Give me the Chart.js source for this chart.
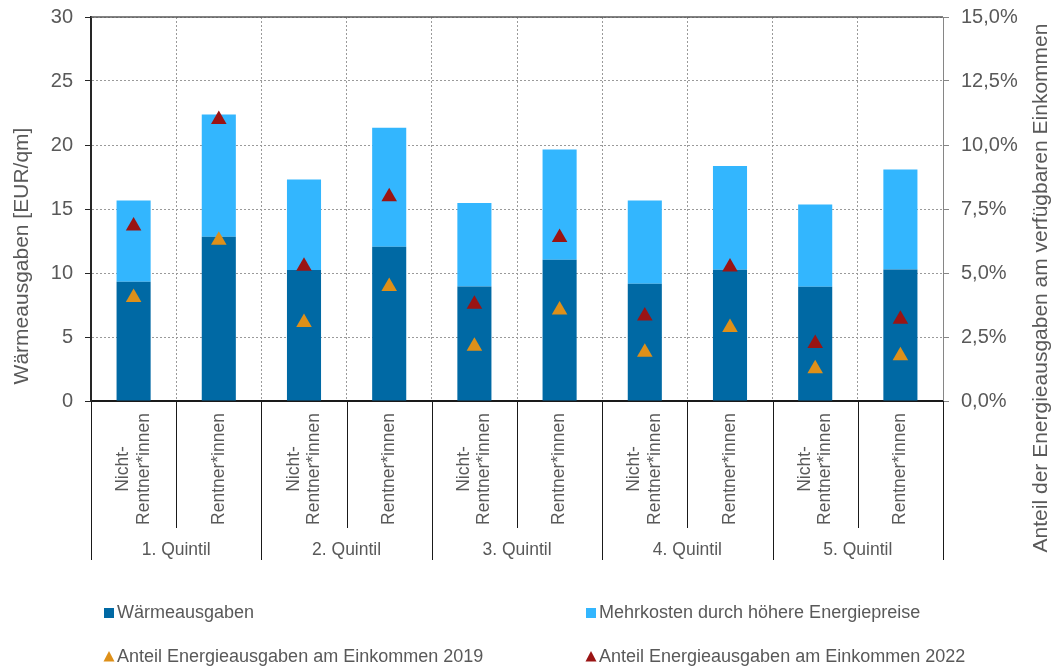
<!DOCTYPE html>
<html><head><meta charset="utf-8">
<script src="https://cdn.jsdelivr.net/npm/chart.js@4.4.1/dist/chart.umd.min.js"></script>
<style>html,body{margin:0;padding:0;background:#fff;}#wrap{width:1051px;height:666px;}</style>
</head><body><div id="wrap"><canvas id="c" width="1051" height="666"></canvas></div>
<script>
const groups = ['1. Quintil', '2. Quintil', '3. Quintil', '4. Quintil', '5. Quintil'];
const categories = [
  ['Nicht-', 'Rentner*innen'], ['Rentner*innen'],
  ['Nicht-', 'Rentner*innen'], ['Rentner*innen'],
  ['Nicht-', 'Rentner*innen'], ['Rentner*innen'],
  ['Nicht-', 'Rentner*innen'], ['Rentner*innen'],
  ['Nicht-', 'Rentner*innen'], ['Rentner*innen']
];
const waermeausgaben = [9.31, 12.83, 10.23, 12.05, 8.95, 11.03, 9.16, 10.25, 8.92, 10.28];
const mehrkosten     = [6.36, 9.55, 7.08, 9.29, 6.51, 8.62, 6.51, 8.10, 6.44, 7.81];
const anteil2019     = [4.04, 6.28, 3.07, 4.47, 2.14, 3.55, 1.90, 2.87, 1.26, 1.77];
const anteil2022     = [6.84, 11.00, 5.26, 7.98, 3.78, 6.39, 3.32, 5.23, 2.25, 3.19];
const seriesNames = ['Wärmeausgaben', 'Mehrkosten durch höhere Energiepreise',
  'Anteil Energieausgaben am Einkommen 2019', 'Anteil Energieausgaben am Einkommen 2022'];
const leftTitle = 'Wärmeausgaben [EUR/qm]';
const rightTitle = 'Anteil der Energieausgaben am verfügbaren Einkommen';

const FONT = '"Liberation Sans", Arial, sans-serif';
const TXT = '#595959';
const C_DARK = '#0069A4', C_LIGHT = '#33B6FE', C_OR = '#DE9019', C_RED = '#9A1414';

const overlay = {
  id: 'overlay',
  afterDraw(chart) {
    const {ctx, chartArea: a, scales: {x}} = chart;
    ctx.save();
    // top border
    ctx.strokeStyle = '#595959'; ctx.lineWidth = 1.5;
    ctx.beginPath(); ctx.moveTo(a.left, a.top); ctx.lineTo(a.right, a.top); ctx.stroke();
    // separators below the axis
    const n = chart.data.labels.length;
    const cw = (a.right - a.left) / n;
    ctx.strokeStyle = '#1a1a1a'; ctx.lineWidth = 1;
    for (let i = 0; i <= n; i++) {
      const xx = Math.round(a.left + i * cw) + 0.5;
      const yb = (i % 2 === 0) ? 560 : 528;
      ctx.beginPath(); ctx.moveTo(xx, a.bottom); ctx.lineTo(xx, yb); ctx.stroke();
    }
    // category labels
    ctx.fillStyle = TXT;
    ctx.font = '17.5px ' + FONT;
    categories.forEach((lines, i) => {
      const cx = x.getPixelForValue(i);
      ctx.save();
      ctx.translate(cx, 469);
      ctx.rotate(-Math.PI / 2);
      ctx.textAlign = 'center'; ctx.textBaseline = 'middle';
      lines.forEach((t, j) => ctx.fillText(t, 0, (j - (lines.length - 1) / 2) * 20.5));
      ctx.restore();
    });
    // group labels
    ctx.textAlign = 'center'; ctx.textBaseline = 'middle';
    groups.forEach((g, k) => {
      const cx = (x.getPixelForValue(2 * k) + x.getPixelForValue(2 * k + 1)) / 2;
      ctx.fillText(g, cx, 550);
    });
    // axis titles
    ctx.font = '21px ' + FONT;
    ctx.save(); ctx.translate(22, 256); ctx.rotate(-Math.PI / 2);
    ctx.fillText(leftTitle, 0, 0); ctx.restore();
    ctx.save(); ctx.translate(1041, 288); ctx.rotate(-Math.PI / 2);
    ctx.fillText(rightTitle, 0, 0); ctx.restore();
    // legend
    ctx.font = '18px ' + FONT;
    ctx.textAlign = 'left';
    const items = [
      {x: 104, y: 613, c: C_DARK, t: 'box'},
      {x: 586, y: 613, c: C_LIGHT, t: 'box'},
      {x: 104, y: 657, c: C_OR, t: 'tri'},
      {x: 586, y: 657, c: C_RED, t: 'tri'}
    ];
    items.forEach((it, i) => {
      ctx.fillStyle = it.c;
      if (it.t === 'box') {
        ctx.fillRect(it.x, it.y - 5, 10, 10);
      } else {
        ctx.beginPath();
        ctx.moveTo(it.x + 5, it.y - 6);
        ctx.lineTo(it.x + 10.5, it.y + 4.5);
        ctx.lineTo(it.x - 0.5, it.y + 4.5);
        ctx.closePath(); ctx.fill();
      }
      ctx.fillStyle = TXT;
      ctx.fillText(seriesNames[i], it.x + 13, it.y);
    });
    ctx.restore();
  }
};

const pctFmt = v => v.toFixed(1).replace('.', ',') + '%';

new Chart(document.getElementById('c'), {
  type: 'bar',
  data: {
    labels: categories.map(l => l.join(' ')),
    datasets: [
      {label: seriesNames[0], data: waermeausgaben, backgroundColor: C_DARK, stack: 's', yAxisID: 'y',
       barPercentage: 0.4, categoryPercentage: 1.0, borderWidth: 0},
      {label: seriesNames[1], data: mehrkosten, backgroundColor: C_LIGHT, stack: 's', yAxisID: 'y',
       barPercentage: 0.4, categoryPercentage: 1.0, borderWidth: 0},
      {type: 'line', label: seriesNames[2], data: anteil2019, yAxisID: 'y1', showLine: false,
       pointStyle: 'triangle', pointRadius: 9, pointHoverRadius: 9, pointBorderWidth: 0,
       backgroundColor: C_OR, borderColor: C_OR, order: -1},
      {type: 'line', label: seriesNames[3], data: anteil2022, yAxisID: 'y1', showLine: false,
       pointStyle: 'triangle', pointRadius: 9, pointHoverRadius: 9, pointBorderWidth: 0,
       backgroundColor: C_RED, borderColor: C_RED, order: -1}
    ]
  },
  options: {
    responsive: false,
    animation: false,
    devicePixelRatio: 1,
    layout: {padding: {left: 0, right: 0, top: 17, bottom: 265}},
    plugins: {legend: {display: false}, tooltip: {enabled: false}},
    scales: {
      x: {
        stacked: true,
        offset: true,
        ticks: {display: false},
        grid: {display: true, offset: true, color: '#9a9a9a', lineWidth: 1, drawTicks: false},
        border: {display: true, color: '#1a1a1a', width: 2, dash: [2, 2]},
        afterFit: s => { s.height = 0; s.paddingLeft = 0; s.paddingRight = 0; }
      },
      y: {
        stacked: true,
        position: 'left',
        min: 0, max: 30,
        ticks: {stepSize: 5, color: TXT, font: {size: 20, family: FONT}, padding: 12},
        grid: {color: '#9a9a9a', lineWidth: 1, drawTicks: true, tickLength: 6, tickColor: '#262626', tickBorderDash: []},
        border: {display: true, color: '#262626', width: 2, dash: [2, 2]},
        afterFit: s => { s.width = 91; s.paddingTop = 0; s.paddingBottom = 0; }
      },
      y1: {
        position: 'right',
        min: 0, max: 15,
        ticks: {stepSize: 2.5, color: TXT, font: {size: 20, family: FONT}, padding: 12, callback: pctFmt},
        grid: {drawOnChartArea: false, drawTicks: true, tickLength: 6, tickColor: '#868686', tickBorderDash: []},
        border: {display: true, color: '#868686', width: 1},
        afterFit: s => { s.width = 108; s.paddingTop = 0; s.paddingBottom = 0; }
      }
    }
  },
  plugins: [overlay]
});
</script></body></html>
